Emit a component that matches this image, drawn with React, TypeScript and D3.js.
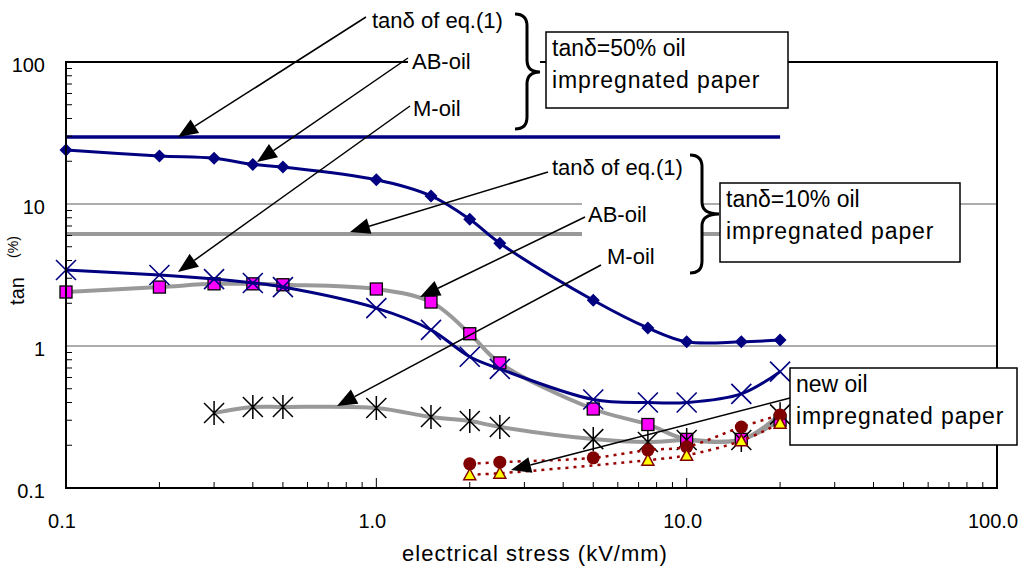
import * as d3 from "d3";

// electrical stress (kV/mm) at which the samples were measured
const stress = [0.1, 0.2, 0.3, 0.4, 0.5, 1.0, 1.5, 2.0, 2.5, 5, 7.5, 10, 15, 20];

// tan delta of eq.(1), constant over the stress range
const eq1Span = [0.1, 20];
const eq1Paper50 = 29.6;
const eq1Paper10 = 6.15;

// 50% oil impregnated paper
const abOil50 = [24, 21.8, 21, 19, 18.2, 14.8, 11.4, 7.8, 5.3, 2.1, 1.34, 1.07, 1.07, 1.1];
const mOil50 = [3.43, 3.16, 2.96, 2.78, 2.6, 1.85, 1.3, 0.84, 0.69, 0.42, 0.4, 0.4, 0.46, 0.66];

// 10% oil impregnated paper
const abOil10 = [2.4, 2.6, 2.74, 2.74, 2.7, 2.52, 2.04, 1.22, 0.76, 0.36, 0.28, 0.22, 0.22, 0.3];
const mOil10Stress = [0.3, 0.4, 0.5, 1.0, 1.5, 2.0, 2.5, 5, 7.5, 10, 15, 20];
const mOil10 = [0.337, 0.372, 0.372, 0.366, 0.316, 0.296, 0.269, 0.221, 0.211, 0.218, 0.218, 0.33];

// new oil impregnated paper
const newOilStressA = [2, 2.5, 5, 7.5, 10, 15, 20];
const newOilA = [0.148, 0.152, 0.163, 0.185, 0.195, 0.269, 0.327];
const newOilStressB = [2, 2.5, 7.5, 10, 15, 20];
const newOilB = [0.124, 0.127, 0.157, 0.17, 0.215, 0.286];

const xTicks = [0.1, 1, 10, 100];
const xTickLabels = ["0.1", "1.0", "10.0", "100.0"];
const yTicks = [0.1, 1, 10, 100];
const yTickLabels = ["0.1", "1", "10", "100"];

const W = 1023;
const H = 571;
const FONT = "'Liberation Sans', Arial, sans-serif";
const NAVY = "#000080";
const GRAY = "#999999";
const DARKRED = "#800000";

const x = d3.scaleLog().domain([0.1, 100]).range([66, 997]);
const y = d3.scaleLog().domain([0.1, 100]).range([488, 62]);

type P = [number, number];
const pts = (xs: number[], ys: number[]): P[] => xs.map((v, i) => [v, ys[i]]);
const line = d3
  .line<P>()
  .x((d) => x(d[0]))
  .y((d) => y(d[1]))
  .curve(d3.curveCatmullRom.alpha(0.5));

const minor: number[] = [];
[0.1, 1, 10].forEach((dec) => {
  for (let k = 2; k <= 9; k++) minor.push(dec * k);
});

function Arrow({ from, to }: { from: P; to: P }) {
  const [x1, y1] = from;
  const [x2, y2] = to;
  const a = Math.atan2(y2 - y1, x2 - x1);
  const L = 20;
  const hw = 8;
  const bx = x2 - L * Math.cos(a);
  const by = y2 - L * Math.sin(a);
  const px = -Math.sin(a) * hw;
  const py = Math.cos(a) * hw;
  return (
    <g>
      <line x1={x1} y1={y1} x2={bx} y2={by} stroke="#000" strokeWidth={1.5} />
      <polygon points={`${x2},${y2} ${bx + px},${by + py} ${bx - px},${by - py}`} fill="#000" />
    </g>
  );
}

function Brace({ x0, xm, xt, top, mid, bot }: { x0: number; xm: number; xt: number; top: number; mid: number; bot: number }) {
  const r = 12;
  const d = `M${x0},${top} Q${xm},${top} ${xm},${top + r} L${xm},${mid - r} Q${xm},${mid} ${xt},${mid} Q${xm},${mid} ${xm},${mid + r} L${xm},${bot - r} Q${xm},${bot} ${x0},${bot}`;
  return <path d={d} fill="none" stroke="#000" strokeWidth={3} />;
}

function Box({ x0, y0, w, h, lines }: { x0: number; y0: number; w: number; h: number; lines: string[] }) {
  return (
    <g>
      <rect x={x0} y={y0} width={w} height={h} fill="#fff" stroke="#000" strokeWidth={1.5} />
      {lines.map((t, i) => (
        <text key={i} x={x0 + 6} y={y0 + 24 + i * 32} fontSize={23} letterSpacing={i === 1 ? 0.9 : 0}>
          {t}
        </text>
      ))}
    </g>
  );
}

export default function App() {
  const xsq = (d: P, s: number) => {
    const cx = x(d[0]);
    const cy = y(d[1]);
    return `M${cx - s},${cy - s}L${cx + s},${cy + s}M${cx - s},${cy + s}L${cx + s},${cy - s}`;
  };

  return (
    <svg width={W} height={H} style={{ position: "absolute", left: 0, top: 0, fontFamily: FONT }}>
      <rect width={W} height={H} fill="#fff" />

      {/* gridlines */}
      {[1, 10].map((v) => (
        <line key={v} x1={x(0.1)} x2={x(100)} y1={y(v)} y2={y(v)} stroke="#5a5a5a" strokeWidth={1} />
      ))}

      {/* 10% paper: gray lines */}
      <path d={line(pts(eq1Span, [eq1Paper10, eq1Paper10])) || ""} fill="none" stroke={GRAY} strokeWidth={4} />
      <path d={line(pts(stress, abOil10)) || ""} fill="none" stroke={GRAY} strokeWidth={4} />
      <path d={line(pts(mOil10Stress, mOil10)) || ""} fill="none" stroke={GRAY} strokeWidth={4} />
      {pts(stress, abOil10).map((d, i) => (
        <rect key={i} x={x(d[0]) - 6} y={y(d[1]) - 6} width={12} height={12} fill="#ff00ff" stroke="#000" strokeWidth={1.3} />
      ))}
      {pts(mOil10Stress, mOil10).map((d, i) => (
        <path
          key={i}
          d={`${xsq(d, 10)}M${x(d[0])},${y(d[1]) - 12}L${x(d[0])},${y(d[1]) + 12}`}
          stroke="#000"
          strokeWidth={1.5}
          fill="none"
        />
      ))}

      {/* 50% paper: navy lines */}
      <path d={line(pts(eq1Span, [eq1Paper50, eq1Paper50])) || ""} fill="none" stroke={NAVY} strokeWidth={3.5} />
      <path d={line(pts(stress, abOil50)) || ""} fill="none" stroke={NAVY} strokeWidth={3} />
      {pts(stress, abOil50).map((d, i) => {
        const cx = x(d[0]);
        const cy = y(d[1]);
        return <path key={i} d={`M${cx},${cy - 6.5}L${cx + 6.5},${cy}L${cx},${cy + 6.5}L${cx - 6.5},${cy}Z`} fill={NAVY} />;
      })}
      <path d={line(pts(stress, mOil50)) || ""} fill="none" stroke={NAVY} strokeWidth={3} />
      {pts(stress, mOil50).map((d, i) => (
        <path key={i} d={xsq(d, 10)} stroke={NAVY} strokeWidth={1.6} fill="none" />
      ))}

      {/* new oil paper */}
      <path d={line(pts(newOilStressA, newOilA)) || ""} fill="none" stroke="#990000" strokeWidth={2.5} strokeDasharray="3 5" />
      <path d={line(pts(newOilStressB, newOilB)) || ""} fill="none" stroke="#990000" strokeWidth={2.5} strokeDasharray="3 5" />
      {pts(newOilStressA, newOilA).map((d, i) => (
        <circle key={i} cx={x(d[0])} cy={y(d[1])} r={6.5} fill={DARKRED} />
      ))}
      {pts(newOilStressB, newOilB).map((d, i) => {
        const cx = x(d[0]);
        const cy = y(d[1]);
        return (
          <path key={i} d={`M${cx},${cy - 6}L${cx + 6},${cy + 5}L${cx - 6},${cy + 5}Z`} fill="#ffff00" stroke={DARKRED} strokeWidth={1.5} />
        );
      })}

      {/* frame and ticks */}
      <rect x={x(0.1)} y={y(100)} width={x(100) - x(0.1)} height={y(0.1) - y(100)} fill="none" stroke="#000" strokeWidth={2} />
      {minor.map((v) => (
        <g key={v}>
          <line x1={x(0.1)} x2={x(0.1) + 6} y1={y(v)} y2={y(v)} stroke="#000" strokeWidth={1} />
          <line x1={x(v)} x2={x(v)} y1={y(0.1)} y2={y(0.1) - 6} stroke="#000" strokeWidth={1} />
        </g>
      ))}
      {[1, 10].map((v) => (
        <line key={v} x1={x(v)} x2={x(v)} y1={y(0.1)} y2={y(0.1) - 10} stroke="#000" strokeWidth={1} />
      ))}

      {/* tick labels */}
      {yTicks.map((v, i) => (
        <text key={v} x={45} y={y(v) + 10} fontSize={20} textAnchor="end">
          {yTickLabels[i]}
        </text>
      ))}
      {xTicks.map((v, i) => (
        <text key={v} x={x(v) - 4} y={528} fontSize={20} textAnchor="middle">
          {xTickLabels[i]}
        </text>
      ))}
      <text x={535} y={561} fontSize={22} letterSpacing={1} textAnchor="middle">
        electrical stress (kV/mm)
      </text>
      <text transform="translate(24,291) rotate(-90)" fontSize={20} textAnchor="middle">
        tan
      </text>
      <text transform="translate(18,247) rotate(-90)" fontSize={14} textAnchor="middle">
        (%)
      </text>

      {/* label masks */}
      <rect x={408} y={50} width={132} height={22} fill="#fff" />
      <rect x={582} y={188} width={120} height={54} fill="#fff" />

      {/* annotations, 50% paper */}
      <text x={372} y={28} fontSize={22}>tanδ of eq.(1)</text>
      <text x={412} y={69} fontSize={22}>AB-oil</text>
      <text x={413} y={116} fontSize={22}>M-oil</text>
      <Arrow from={[366, 17]} to={[178, 137]} />
      <Arrow from={[408, 58]} to={[257, 162]} />
      <Arrow from={[410, 106]} to={[178, 272]} />
      <Brace x0={515} xm={527} xt={540} top={14} mid={72} bot={129} />
      <Box x0={546} y0={32} w={242} h={76} lines={["tanδ=50% oil", "impregnated paper"]} />

      {/* annotations, 10% paper */}
      <text x={552} y={175} fontSize={22}>tanδ of eq.(1)</text>
      <text x={588} y={222} fontSize={22}>AB-oil</text>
      <text x={607} y={264} fontSize={22}>M-oil</text>
      <Arrow from={[548, 172]} to={[350, 232]} />
      <Arrow from={[585, 217]} to={[420, 297]} />
      <Arrow from={[601, 265]} to={[337, 406]} />
      <Brace x0={690} xm={702} xt={719} top={155} mid={214} bot={273} />
      <Box x0={720} y0={183} w={240} h={79} lines={["tanδ=10% oil", "impregnated paper"]} />

      {/* annotations, new oil */}
      <Arrow from={[790, 398]} to={[511, 470]} />
      <Box x0={790} y0={368} w={227} h={77} lines={["new oil", "impregnated paper"]} />
    </svg>
  );
}
